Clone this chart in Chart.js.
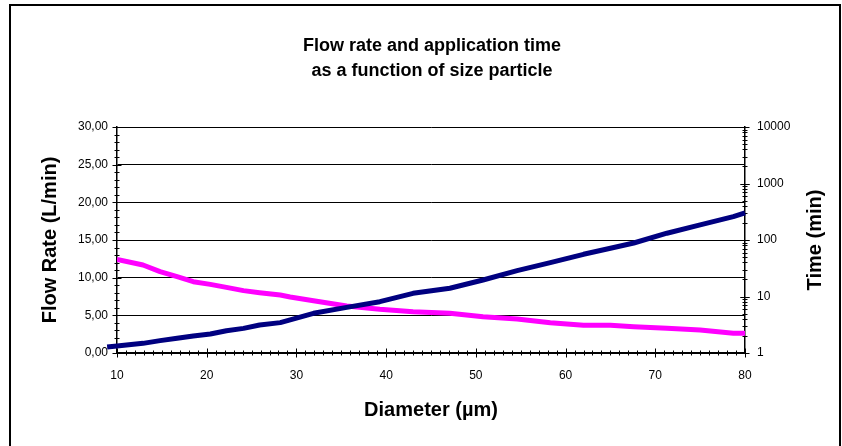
<!DOCTYPE html>
<html>
<head>
<meta charset="utf-8">
<script src="https://cdn.jsdelivr.net/npm/chart.js@4.4.0/dist/chart.umd.js"></script>
<style>
    html, body { margin: 0; padding: 0; background: #fff; }
    #wrap { width: 842px; height: 446px; }
</style>
</head>
<body>
<div id="wrap"><canvas id="chart" width="842" height="446"></canvas></div>
<script>
// values
const diameters = [8.9, 10, 12.9, 14.8, 16.7, 18.5, 20.4, 22.2, 24.1, 25.9, 28.2, 29.3, 31.9, 35.6, 39.3, 43.0,
    47.1, 50.8, 54.6, 58.3, 62.0, 65.0, 67.6, 71.3, 75.0, 78.7, 80, 81.3];
const flowRate = [0.8, 0.93, 1.28, 1.64, 1.95, 2.26, 2.52, 2.96, 3.27, 3.72, 4.03, 4.4, 5.27, 6.06, 6.81, 7.92,
    8.6, 9.69, 10.93, 11.99, 13.1, 13.9, 14.6, 15.9, 17.0, 18.1, 18.6, 19.0];
const appTime = [null, 45.5, 36.1, 27.5, 22.4, 18.3, 16.4, 14.5, 12.7, 11.7, 10.6, 9.8, 8.43, 6.79, 5.93, 5.38,
    5.05, 4.39, 4.0, 3.44, 3.09, 3.09, 2.92, 2.74, 2.55, 2.23, 2.23, null];

const diameterTicks = [10, 20, 30, 40, 50, 60, 70, 80];
const flowTicks = [0, 5, 10, 15, 20, 25, 30];
const timeTicks = [1, 10, 100, 1000, 10000];

const FONT = "'Liberation Sans', Arial, sans-serif";
Chart.defaults.font.family = FONT;
Chart.defaults.color = '#000';

// tick marks (major + minor), outer frame and right-hand axis title
const decorations = {
    id: 'decorations',
    beforeDatasetsDraw(chart) {
        const { ctx, chartArea: a } = chart;
        const xs = chart.scales.x, yl = chart.scales.y, yr = chart.scales.y1;
        ctx.save();
        ctx.strokeStyle = '#000';
        ctx.lineWidth = 1;
        ctx.beginPath();
        for (let v = diameterTicks[0]; v <= diameterTicks[diameterTicks.length - 1]; v++) {
            const p = Math.round(xs.getPixelForValue(v)) + 0.5;
            const L = diameterTicks.includes(v) ? 4.5 : 2.5;
            ctx.moveTo(p, a.bottom - L); ctx.lineTo(p, a.bottom + L);
        }
        for (let v = flowTicks[0]; v <= flowTicks[flowTicks.length - 1]; v++) {
            const p = Math.round(yl.getPixelForValue(v)) + 0.5;
            const L = flowTicks.includes(v) ? 4.5 : 2.5;
            ctx.moveTo(a.left - L, p); ctx.lineTo(a.left + L, p);
        }
        for (let d = 1; d < 10000; d *= 10) {
            for (let k = 1; k <= 10; k++) {
                const v = d * k;
                const p = Math.round(yr.getPixelForValue(v)) + 0.5;
                const L = timeTicks.includes(v) ? 4.5 : 2.5;
                ctx.moveTo(a.right - L, p); ctx.lineTo(a.right + L, p);
            }
        }
        ctx.stroke();
        ctx.restore();
    },
    afterDraw(chart) {
        const { ctx, chartArea: a } = chart;
        ctx.save();
        ctx.strokeStyle = '#000';
        ctx.lineWidth = 2;
        ctx.strokeRect(10, 5, 830, 470);
        ctx.translate(815, (a.top + a.bottom) / 2);
        ctx.rotate(-Math.PI / 2);
        ctx.font = 'bold 20px ' + FONT;
        ctx.fillStyle = '#000';
        ctx.textAlign = 'center';
        ctx.textBaseline = 'middle';
        ctx.fillText('Time (min)', 0, 0);
        ctx.restore();
    },
};

new Chart(document.getElementById('chart'), {
    type: 'line',
    data: {
        datasets: [{
            label: 'Flow Rate (L/min)',
            data: diameters.map((d, i) => ({ x: d, y: flowRate[i] })),
            yAxisID: 'y',
            borderColor: '#000080',
            borderWidth: 5,
            pointRadius: 0,
            tension: 0,
            clip: false,
            borderJoinStyle: 'round',
        }, {
            label: 'Time (min)',
            data: diameters.map((d, i) => ({ x: d, y: appTime[i] })),
            yAxisID: 'y1',
            borderColor: '#ff00ff',
            borderWidth: 5,
            pointRadius: 0,
            tension: 0,
            borderJoinStyle: 'round',
        }],
    },
    options: {
        responsive: false, animation: false, devicePixelRatio: 1,
        layout: { padding: { left: 22, right: 0, top: 0, bottom: 0 } },
        plugins: {
            legend: { display: false },
            tooltip: { enabled: false },
            title: {
                display: true,
                text: ['Flow rate and application time', 'as a function of size particle'],
                font: { size: 18, weight: 'bold', lineHeight: 25 / 18 },
                color: '#000',
                padding: { top: 34, bottom: 43 },
            },
        },
        scales: {
            x: {
                type: 'linear', min: 10, max: 80,
                afterBuildTicks: (s) => { s.ticks = diameterTicks.map((v) => ({ value: v })); },
                afterFit: (s) => { s.height = 93; },
                grid: { display: false, drawTicks: false },
                border: { display: true, color: '#000', width: 1.5 },
                ticks: { padding: 15, font: { size: 12 }, maxRotation: 0, callback: (v) => String(v) },
                title: { display: true, text: 'Diameter (µm)', font: { size: 20, weight: 'bold' }, padding: { top: 0, bottom: 24 } },
            },
            y: {
                position: 'left', min: 0, max: 30,
                afterBuildTicks: (s) => { s.ticks = flowTicks.map((v) => ({ value: v })); },
                afterFit: (s) => { s.width = 95; },
                grid: { color: '#000', lineWidth: 1, drawTicks: false },
                border: { display: true, color: '#000', width: 1.5 },
                ticks: { padding: 9, font: { size: 12 }, callback: (v) => v.toFixed(2).replace('.', ',') },
                title: { display: true, text: 'Flow Rate (L/min)', font: { size: 20, weight: 'bold' }, padding: { top: 16, bottom: 0 } },
            },
            y1: {
                type: 'logarithmic', position: 'right', min: 1, max: 10000,
                afterBuildTicks: (s) => { s.ticks = timeTicks.map((v) => ({ value: v })); },
                afterFit: (s) => { s.width = 97; },
                grid: { display: false, drawTicks: false },
                border: { display: true, color: '#000', width: 1.5 },
                ticks: { padding: 12, font: { size: 12 }, callback: (v) => String(v) },
            },
        },
    },
    plugins: [decorations],
});
</script>
</body>
</html>
